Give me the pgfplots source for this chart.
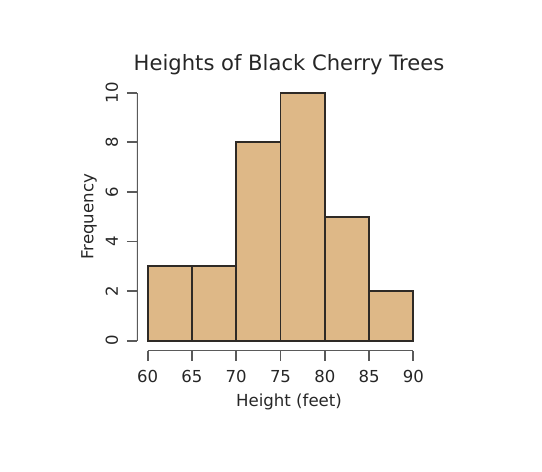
\documentclass[border=0pt]{standalone}
\usepackage{fontspec}
\setmainfont{DejaVu Sans}
\usepackage{pgfplots}
\pgfplotsset{compat=1.18}
\usepackage{pgfplotstable}
\definecolor{burly}{HTML}{DEB887}
\definecolor{edge}{HTML}{2E2A26}
\definecolor{axgray}{HTML}{5A5A5A}
% bin start, count (last row closes the final bin)
\pgfplotstableread{
x   n
60  3
65  3
70  8
75  10
80  5
85  2
90  2
}\heights
\begin{document}
\begin{tikzpicture}[x=1pt,y=1pt]
\begin{axis}[
    at={(137pt,121.4pt)}, anchor=south west,
    scale only axis,
    width=304pt, height=267.8pt,
    xmin=58.8, xmax=93.12,
    ymin=-0.4, ymax=10.4,
    axis x line*=bottom, axis y line*=left,
    axis line style={draw=none},
    xtick={60,65,...,90},
    ytick={0,2,...,10},
    tick align=outside,
    major tick length=10pt,
    tick style={axgray, line width=1.8pt},
    /pgf/number format/assume math mode=true,
    tick label style={font=\fontsize{16.5pt}{19pt}\selectfont, text=black!85},
    xticklabel style={anchor=base},
    xticklabel shift=22pt,
    yticklabel style={rotate=90, anchor=base},
    yticklabel shift=9pt,
    title={Heights of Black Cherry Trees},
    title style={at={(axis description cs:0.5,1.0235)}, anchor=base,
        font=\fontsize{21.1pt}{24pt}\selectfont, text=black!85},
    xlabel={Height (feet)},
    xlabel style={at={(axis description cs:0.5,-0.2069)}, anchor=base,
        font=\fontsize{16.6pt}{19pt}\selectfont, text=black!85},
    ylabel={Frequency},
    ylabel style={at={(axis description cs:-0.1437,0.5)}, anchor=base,
        font=\fontsize{16.6pt}{19pt}\selectfont, text=black!85},
]
% fill first, then outlines so no edge gets covered
\addplot[ybar interval, fill=burly, draw=none] table[x=x, y=n] {\heights};
\addplot[ybar interval, fill=none, draw=edge, line width=1.8pt] table[x=x, y=n] {\heights};
\draw[axgray, line width=1.8pt] (axis cs:60,-0.4) -- (axis cs:90,-0.4);
\draw[axgray, line width=1.8pt] (axis cs:58.8,0) -- (axis cs:58.8,10);
\end{axis}
\pgfresetboundingbox
\path (0,0) rectangle (542pt,472pt);
\end{tikzpicture}
\end{document}
